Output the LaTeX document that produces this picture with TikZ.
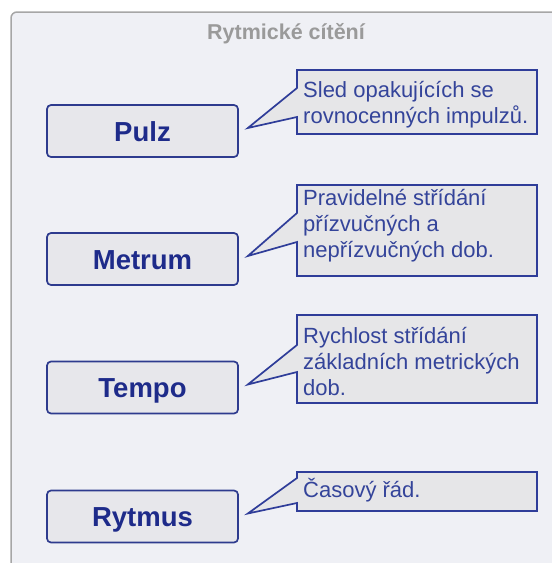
\documentclass[tikz,border=0pt]{standalone}
\usepackage{fontspec}
\setmainfont{Liberation Sans}
\usetikzlibrary{calc}
\definecolor{panelfill}{HTML}{EFF0F5}
\definecolor{paneldraw}{HTML}{A6A6A6}
\definecolor{termfill}{HTML}{E7E7EB}
\definecolor{termdraw}{HTML}{2E3B8E}
\definecolor{termtext}{HTML}{1E2B8A}
\definecolor{notefill}{HTML}{E6E6E8}
\definecolor{notedraw}{HTML}{2F3D99}
\definecolor{notetext}{HTML}{34449A}
\definecolor{titlegray}{HTML}{9A9A9A}
\tikzset{
  term/.style={draw=termdraw, fill=termfill, line width=1.7pt, rounded corners=4pt,
    minimum width=191pt, minimum height=52pt, inner sep=0pt,
    text height=20pt, text depth=0pt,
    text=termtext, font=\bfseries\fontsize{27.5}{30}\selectfont},
  noteshape/.style={draw=notedraw, fill=notefill, line width=1.7pt, line join=miter},
  notetxt/.style={anchor=north west, inner sep=0pt, align=left, text=notetext,
    font=\fontsize{22}{26}\selectfont},
}
\newcommand{\firstline}{\rule{0pt}{21pt}}
% callout frame: #1 top, #2 bottom, #3 upper base, #4 lower base, #5 term, #6 tip name
\newcommand{\callout}[6]{%
  \coordinate (#6) at ($(#5.east)+(9,-3)$);
  \draw[noteshape] (297,#1) -- (537,#1) -- (537,#2) -- (297,#2) -- (297,#4)
    -- (#6) -- (297,#3) -- cycle;}
\begin{document}
\begin{tikzpicture}[x=1pt, y=-1pt]
\useasboundingbox (0,0) rectangle (552,563);
% panel behind everything
\draw[fill=panelfill, draw=paneldraw, line width=1.5pt, rounded corners=6pt]
  (11,12) rectangle (600,620);
\node[text=titlegray, font=\bfseries\fontsize{21.5}{24}\selectfont] (title) at (286,34) {Rytmické cítění};

% terms
\node[term] (pulz)   at (142.5,131)   {Pulz};
\node[term] (metrum) at (142.5,259)   {Metrum};
\node[term] (tempo)  at (142.5,387.5) {Tempo};
\node[term] (rytmus) at (142.5,516.5) {Rytmus};

% callouts pointing at the terms
\callout{70}{134}{88}{117}{pulz}{tip1}
\callout{185}{276}{213}{242}{metrum}{tip2}
\callout{315}{403}{345}{372}{tempo}{tip3}
\callout{472}{511}{478}{503}{rytmus}{tip4}

% callout texts (first baseline 21pt below the node top)
\node[notetxt] (note1) at (303,76)  {\firstline Sled opakujících se\\rovnocenných impulzů.};
\node[notetxt] (note2) at (303,184) {\firstline Pravidelné střídání\\přízvučných a\\nepřízvučných dob.};
\node[notetxt] (note3) at (303,322) {\firstline Rychlost střídání\\základních metrických\\dob.};
\node[notetxt] (note4) at (303,476) {\firstline Časový řád.};
\end{tikzpicture}
\end{document}
